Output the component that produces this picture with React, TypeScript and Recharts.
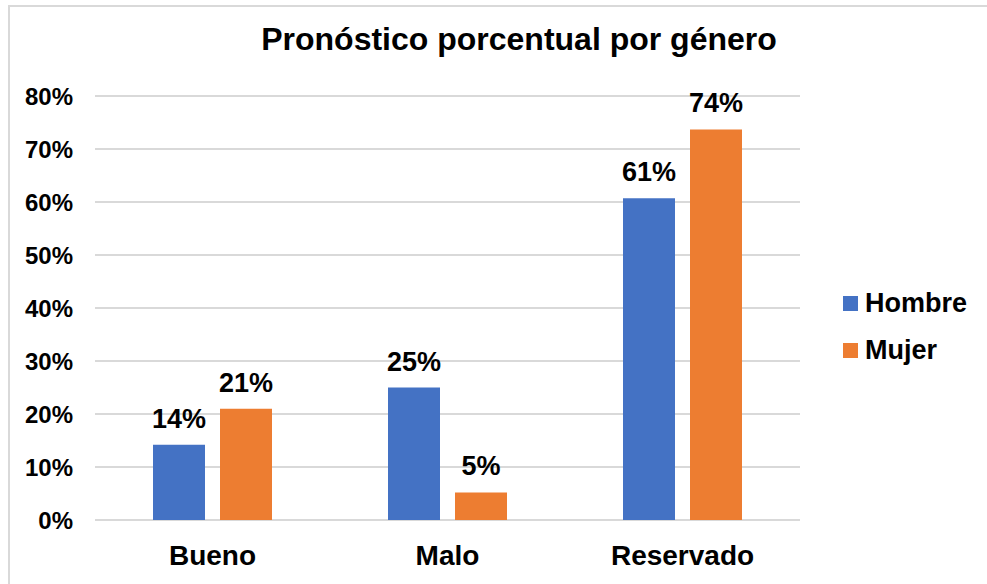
import { BarChart, Bar, XAxis, YAxis, CartesianGrid, Legend, LabelList } from "recharts";

const categories = ["Bueno", "Malo", "Reservado"];
const hombre = [0.142, 0.25, 0.607];
const mujer = [0.21, 0.052, 0.737];
const yTicks = [0, 0.1, 0.2, 0.3, 0.4, 0.5, 0.6, 0.7, 0.8];
const seriesNames = ["Hombre", "Mujer"];
const seriesColors = ["#4472C4", "#ED7D31"];

const FONT = '"Liberation Sans", Arial, sans-serif';

const data = categories.map((name, i) => ({
  name,
  Hombre: hombre[i],
  Mujer: mujer[i],
}));

const pct = (v: number) => `${Math.round(v * 100)}%`;

const renderLegend = (props: any) => {
  const items = props.payload || [];
  return (
    <div style={{ fontFamily: FONT, fontWeight: "bold", fontSize: 27 }}>
      {items.map((item: any) => (
        <div
          key={item.value}
          style={{ display: "flex", alignItems: "center", height: 31, marginBottom: 16 }}
        >
          <span
            style={{ width: 15, height: 15, background: item.color, marginRight: 7, display: "inline-block" }}
          />
          <span style={{ color: "#000" }}>{item.value}</span>
        </div>
      ))}
    </div>
  );
};

export default function App() {
  return (
    <div
      style={{
        position: "absolute",
        left: 0,
        top: 0,
        width: 987,
        height: 584,
        overflow: "hidden",
        background: "#fff",
        fontFamily: FONT,
      }}
    >
      {/* chart frame */}
      <div
        style={{
          position: "absolute",
          left: 8,
          top: 5,
          width: 1000,
          height: 600,
          border: "2px solid #d9d9d9",
          boxSizing: "border-box",
        }}
      />
      <div
        style={{
          position: "absolute",
          left: 119,
          top: 23,
          width: 800,
          textAlign: "center",
          fontSize: 32,
          lineHeight: "32px",
          fontWeight: "bold",
          color: "#000",
        }}
      >
        Pronóstico porcentual por género
      </div>
      <div style={{ position: "absolute", left: 0, top: 0 }}>
        <BarChart
          width={987}
          height={584}
          data={data}
          margin={{ top: 96, right: 187, bottom: 0, left: 0 }}
          barSize={52}
          barGap={15}
        >
          <CartesianGrid vertical={false} stroke="#d9d9d9" strokeWidth={2} />
          <XAxis
            dataKey="name"
            axisLine={false}
            tickLine={false}
            tickSize={0}
            tickMargin={25}
            height={64}
            tick={{ fill: "#000", fontSize: 28, fontWeight: "bold", fontFamily: FONT }}
          />
          <YAxis
            domain={[0, 0.8]}
            ticks={yTicks}
            tickFormatter={pct}
            axisLine={false}
            tickLine={false}
            tickSize={0}
            tickMargin={22}
            width={95}
            tick={{ fill: "#000", fontSize: 24, fontWeight: "bold", fontFamily: FONT }}
          />
          <Legend
            layout="vertical"
            align="center"
            verticalAlign="middle"
            content={renderLegend}
            wrapperStyle={{ position: "absolute", left: 843, top: 288, width: 140, height: "auto" }}
          />
          {seriesNames.map((s, i) => (
            <Bar key={s} dataKey={s} name={s} fill={seriesColors[i]} isAnimationActive={false}>
              <LabelList
                dataKey={s}
                position="top"
                offset={17}
                formatter={(v: any) => pct(Number(v))}
                style={{ fill: "#000", fontSize: 27, fontWeight: "bold", fontFamily: FONT }}
              />
            </Bar>
          ))}
        </BarChart>
      </div>
    </div>
  );
}
